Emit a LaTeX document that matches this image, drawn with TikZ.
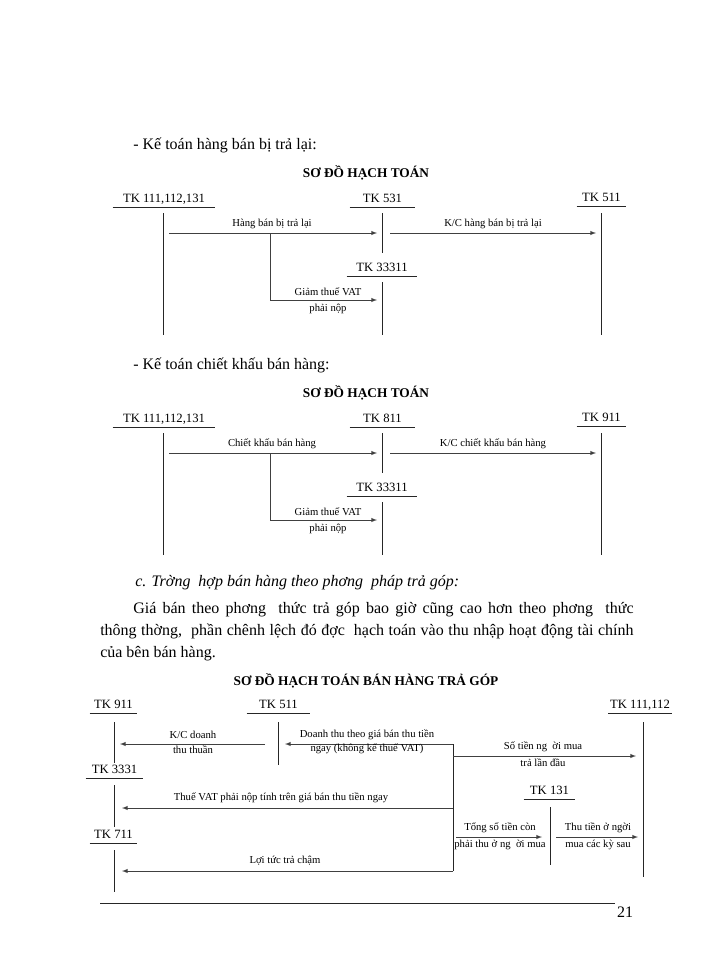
\documentclass[tikz,border=0pt]{standalone}
\usepackage{fontspec}
\setmainfont{Liberation Serif}
\usetikzlibrary{arrows}
\usetikzlibrary{positioning}
\tikzstyle{tk}=[font=\fontsize{9.5}{11}\selectfont, inner xsep=0pt, inner ysep=1pt, text height=0.7em, text depth=0.2em, anchor=south]
\tikzstyle{lbl}=[font=\fontsize{8}{9}\selectfont, inner sep=0pt]
\tikzstyle{heading}=[font=\fontsize{10}{12}\selectfont\bfseries, inner sep=0pt]
\tikzstyle{txt}=[font=\fontsize{12}{16.5}\selectfont, inner sep=0pt, anchor=west]
\tikzstyle{acct}=[line width=0.6pt, black!85]
\tikzstyle{uline}=[line width=0.5pt, black!85]
\tikzstyle{flow}=[->, line width=0.5pt, black!75]
\tikzset{>=latex}

\begin{document}
\begin{tikzpicture}[x=0.75pt, y=-0.75pt]
      \useasboundingbox (0,0) rectangle (700,960);
      \fill[white] (0,0) rectangle (700,960);

      % hang ban bi tra lai
      \node at (133,145) [txt] (h1) {- Kế toán hàng bán bị trả lại:};
      \node at (366,173) [heading] (t1) {SƠ ĐỒ HẠCH TOÁN};
      \node at (164,207) [tk, minimum width=76.5pt] (tkA1) {TK 111,112,131};
      \node at (382.5,207) [tk, minimum width=48.75pt] (tkB1) {TK 531};
      \node at (601.5,206) [tk, minimum width=36.75pt] (tkC1) {TK 511};
      \node at (382,276) [tk, minimum width=52.5pt] (tkD1) {TK 33311};
      \draw[uline] (tkA1.south west) -- (tkA1.south east);
      \draw[uline] (tkB1.south west) -- (tkB1.south east);
      \draw[uline] (tkC1.south west) -- (tkC1.south east);
      \draw[uline] (tkD1.south west) -- (tkD1.south east);
      \coordinate (A1t) at (163,213); \coordinate (A1b) at (163,335);
      \coordinate (B1t) at (382,213); \coordinate (B1b) at (382,253);
      \coordinate (C1t) at (601,213); \coordinate (C1b) at (601,335);
      \coordinate (D1t) at (382,282); \coordinate (D1b) at (382,335);
      \draw[acct] (A1t) -- (A1b);
      \draw[acct] (B1t) -- (B1b);
      \draw[acct] (C1t) -- (C1b);
      \draw[acct] (D1t) -- (D1b);
      \coordinate (r1s) at (169,233); \coordinate (r1e) at (377,233);
      \coordinate (k1s) at (390,233); \coordinate (k1e) at (596,233);
      \coordinate (g1s) at (270,233); \coordinate (g1e) at (377,300);
      \draw[flow] (r1s) -- (r1e);
      \draw[flow] (k1s) -- (k1e);
      \draw[flow] (g1s) |- (g1e);
      \node at (272,224) [lbl] (r1l) {Hàng bán bị trả lại};
      \node at (493,224) [lbl] (k1l) {K/C hàng bán bị trả lại};
      \node at (328,292) [lbl] (g1l) {Giảm thuế VAT};
      \node at (328,309) [lbl] (g1m) {phải nộp};

      % chiet khau ban hang
      \node at (133,365) [txt] (h2) {- Kế toán chiết khấu bán hàng:};
      \node at (366,393) [heading] (t2) {SƠ ĐỒ HẠCH TOÁN};
      \node at (164,427) [tk, minimum width=76.5pt] (tkA2) {TK 111,112,131};
      \node at (382.5,427) [tk, minimum width=48.75pt] (tkB2) {TK 811};
      \node at (601.5,426) [tk, minimum width=36.75pt] (tkC2) {TK 911};
      \node at (382,496) [tk, minimum width=52.5pt] (tkD2) {TK 33311};
      \draw[uline] (tkA2.south west) -- (tkA2.south east);
      \draw[uline] (tkB2.south west) -- (tkB2.south east);
      \draw[uline] (tkC2.south west) -- (tkC2.south east);
      \draw[uline] (tkD2.south west) -- (tkD2.south east);
      \coordinate (A2t) at (163,433); \coordinate (A2b) at (163,555);
      \coordinate (B2t) at (382,433); \coordinate (B2b) at (382,473);
      \coordinate (C2t) at (601,433); \coordinate (C2b) at (601,555);
      \coordinate (D2t) at (382,502); \coordinate (D2b) at (382,555);
      \draw[acct] (A2t) -- (A2b);
      \draw[acct] (B2t) -- (B2b);
      \draw[acct] (C2t) -- (C2b);
      \draw[acct] (D2t) -- (D2b);
      \coordinate (r2s) at (169,453); \coordinate (r2e) at (377,453);
      \coordinate (k2s) at (390,453); \coordinate (k2e) at (596,453);
      \coordinate (g2s) at (270,453); \coordinate (g2e) at (377,520);
      \draw[flow] (r2s) -- (r2e);
      \draw[flow] (k2s) -- (k2e);
      \draw[flow] (g2s) |- (g2e);
      \node at (272,444) [lbl] (r2l) {Chiết khấu bán hàng};
      \node at (493,444) [lbl] (k2l) {K/C chiết khấu bán hàng};
      \node at (328,512) [lbl] (g2l) {Giảm thuế VAT};
      \node at (328,529) [lbl] (g2m) {phải nộp};

      % tra gop
      \node at (135,583) [txt, font=\fontsize{12}{14}\selectfont\itshape] (h3) {c. Trờng~~hợp bán hàng theo phơng~~pháp trả góp:};
      \node at (100,602) [txt, anchor=north west, text width=400pt, align=justify] (para) {\hspace*{24.75pt}Giá bán theo phơng~~thức trả góp bao giờ cũng cao hơn theo phơng~~thức\linebreak thông thờng,~~phần chênh lệch đó đợc~~hạch toán vào thu nhập hoạt động tài chính\linebreak của bên bán hàng.};
      \node at (366,681) [heading] (t3) {SƠ ĐỒ HẠCH TOÁN BÁN HÀNG TRẢ GÓP};

      \node at (113.5,713) [tk, minimum width=35.25pt] (tk911) {TK 911};
      \node at (278.5,713) [tk, minimum width=47.25pt] (tk511) {TK 511};
      \node at (640,713) [tk, minimum width=47.25pt] (tk111) {TK 111,112};
      \node at (114.5,778) [tk, minimum width=42.75pt] (tk3331) {TK 3331};
      \node at (113.5,843) [tk, minimum width=35.25pt] (tk711) {TK 711};
      \node at (549.5,799) [tk, minimum width=38.25pt] (tk131) {TK 131};
      \draw[uline] (tk911.south west) -- (tk911.south east);
      \draw[uline] (tk511.south west) -- (tk511.south east);
      \draw[uline] (tk111.south west) -- (tk111.south east);
      \draw[uline] (tk3331.south west) -- (tk3331.south east);
      \draw[uline] (tk711.south west) -- (tk711.south east);
      \draw[uline] (tk131.south west) -- (tk131.south east);
      \coordinate (v911t) at (114,722); \coordinate (v911b) at (114,763);
      \coordinate (v511t) at (278,722); \coordinate (v511b) at (278,765);
      \coordinate (v3331t) at (114,785); \coordinate (v3331b) at (114,827);
      \coordinate (v711t) at (114,850); \coordinate (v711b) at (114,892);
      \coordinate (v111t) at (643,722); \coordinate (v111b) at (643,877);
      \coordinate (v131t) at (550,807); \coordinate (v131b) at (550,865);
      \draw[acct] (v911t) -- (v911b);
      \draw[acct] (v511t) -- (v511b);
      \draw[acct] (v3331t) -- (v3331b);
      \draw[acct] (v711t) -- (v711b);
      \draw[acct] (v111t) -- (v111b);
      \draw[acct] (v131t) -- (v131b);

      \coordinate (jt) at (453,744); \coordinate (jv) at (453,808);
      \coordinate (jb) at (453,871); \coordinate (js) at (453,756);
      \coordinate (jc) at (456,837);
      \coordinate (kce) at (120,744); \coordinate (kcs) at (265,744);
      \coordinate (dte) at (285,744);
      \coordinate (ste) at (636,756);
      \coordinate (vte) at (122,808);
      \coordinate (lte) at (122,871);
      \coordinate (tse) at (542,837);
      \coordinate (tts) at (556,837); \coordinate (tte) at (638,837);
      \draw[acct] (jt) -- (jb);
      \draw[flow] (kcs) -- (kce);
      \draw[flow] (jt) -- (dte);
      \draw[flow] (js) -- (ste);
      \draw[flow] (jv) -- (vte);
      \draw[flow] (jb) -- (lte);
      \draw[flow] (jc) -- (tse);
      \draw[flow] (tts) -- (tte);
      \node at (193,735) [lbl] (kcl) {K/C doanh};
      \node at (193,750) [lbl] (kcm) {thu thuần};
      \node at (367,735) [lbl] (dtl) {Doanh thu theo giá bán thu tiền};
      \node at (367,749) [lbl] (dtm) {ngay (không kể thuế VAT)};
      \node at (543,747) [lbl] (stl) {Số tiền ng~~ời mua};
      \node at (543,763) [lbl] (stm) {trả lần đầu};
      \node at (281,798) [lbl] (vtl) {Thuế VAT phải nộp tính trên giá bán thu tiền ngay};
      \node at (285,861) [lbl] (ltl) {Lợi tức trả chậm};
      \node at (500,828) [lbl] (tsl) {Tổng số tiền còn};
      \node at (500,845) [lbl] (tsm) {phải thu ở ng~~ời mua};
      \node at (598,828) [lbl] (ttl) {Thu tiền ở ngời};
      \node at (598,845) [lbl] (ttm) {mua các kỳ sau};

      % chan trang
      \coordinate (fl) at (100,903); \coordinate (fr) at (615,903);
      \draw[uline] (fl) -- (fr);
      \node at (625,912) [txt, anchor=center] (pg) {21};
\end{tikzpicture}
\end{document}
